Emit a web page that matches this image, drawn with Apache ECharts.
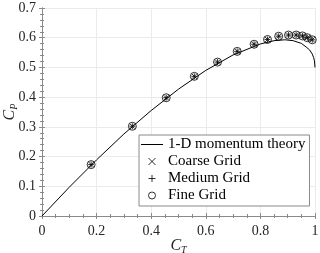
<!DOCTYPE html>
<html>
<head>
<meta charset="utf-8">
<script src="https://cdn.jsdelivr.net/npm/echarts@6/dist/echarts.min.js"></script>
<style>html,body{margin:0;padding:0;background:#fff}#c{width:320px;height:253px}</style>
</head>
<body>
<div id="c"></div>
<script>
// Momentum theory curve
var theoryCT = [0, 0.1, 0.2, 0.3, 0.4, 0.5, 0.6, 0.7, 0.8, 0.85, 0.89, 0.92, 0.95, 0.97, 0.98, 0.99, 0.995, 0.998, 1.0];
var theoryCP = [0, 0.097, 0.189, 0.276, 0.355, 0.427, 0.49, 0.542, 0.579, 0.59, 0.593, 0.59, 0.581, 0.567, 0.559, 0.545, 0.533, 0.522, 0.5];
// Grid simulations
var gridCT = [0.18, 0.331, 0.455, 0.558, 0.643, 0.715, 0.777, 0.826, 0.867, 0.903, 0.931, 0.954, 0.972, 0.99];
var coarseCP = [0.173, 0.302, 0.398, 0.470, 0.518, 0.554, 0.578, 0.594, 0.605, 0.609, 0.609, 0.606, 0.600, 0.593];
var mediumCP = [0.173, 0.302, 0.398, 0.470, 0.518, 0.554, 0.578, 0.594, 0.605, 0.609, 0.609, 0.606, 0.600, 0.593];
var fineCP   = [0.173, 0.302, 0.398, 0.470, 0.518, 0.554, 0.578, 0.594, 0.605, 0.609, 0.609, 0.606, 0.600, 0.593];
var names = ['1-D momentum theory', 'Coarse Grid', 'Medium Grid', 'Fine Grid'];

function pairs(xs, ys) { return xs.map(function (x, i) { return [x, ys[i]]; }); }

var FONT = '"Liberation Serif", "DejaVu Serif", serif';
var AX = '#8a8a8a';
var TXT = '#262626';
var xPath = 'path://M0 0L10 10M10 0L0 10';
var pPath = 'path://M5 0L5 10M0 5L10 5';
var linePath = 'path://M0 0L22 0L22 1L0 1Z';

function axisCommon(show) {
  return {
    axisLine: { show: true, lineStyle: { color: AX, width: 1 } },
    axisTick: { show: true, inside: true, length: 3, lineStyle: { color: AX } },
    axisLabel: { show: show, color: TXT, fontFamily: FONT, fontSize: 14 },
    splitLine: { show: show, lineStyle: { color: '#ebebeb', width: 1 } }
  };
}

var nameRich = {
  c: { fontFamily: FONT, fontStyle: 'italic', fontSize: 16, color: TXT },
  s: { fontFamily: FONT, fontStyle: 'italic', fontSize: 10, color: TXT, padding: [9, 0, 0, 0] }
};

var chart = echarts.init(document.getElementById('c'), null, { renderer: 'canvas' });
chart.setOption({
  animation: false,
  backgroundColor: '#fff',
  grid: { left: 42, right: 5, top: 8, bottom: 37, containLabel: false, outerBoundsMode: 'none' },
  xAxis: [
    Object.assign({ type: 'value', min: 0, max: 1, interval: 0.2, position: 'bottom',
      name: '{c|C}{s|T}', nameLocation: 'middle', nameGap: 20, nameMoveOverlap: false,
      nameTextStyle: { rich: nameRich } }, axisCommon(true),
      { minorTick: { show: true, splitNumber: 4, length: 2, lineStyle: { color: AX } },
        axisLabel: { show: true, color: TXT, fontFamily: FONT, fontSize: 14, margin: 8 } }),
    Object.assign({ type: 'value', min: 0, max: 1, interval: 0.2, position: 'top' }, axisCommon(false),
      { minorTick: { show: true, splitNumber: 4, length: 2, lineStyle: { color: AX } } })
  ],
  yAxis: [
    Object.assign({ type: 'value', min: 0, max: 0.7, interval: 0.1, position: 'left',
      name: '{c|C}{s|P}', nameLocation: 'middle', nameGap: 23, nameRotate: 90, nameMoveOverlap: false,
      nameTextStyle: { rich: nameRich } }, axisCommon(true),
      { minorTick: { show: true, splitNumber: 5, length: 2, lineStyle: { color: AX } },
        axisLabel: { show: true, color: TXT, fontFamily: FONT, fontSize: 14, margin: 6 } }),
    Object.assign({ type: 'value', min: 0, max: 0.7, interval: 0.1, position: 'right' }, axisCommon(false),
      { minorTick: { show: true, splitNumber: 5, length: 2, lineStyle: { color: AX } } })
  ],
  legend: {
    orient: 'vertical', left: 139, top: 135,
    padding: [1, 4, 2, 2], itemGap: 0, itemWidth: 22, itemHeight: 7,
    borderColor: '#8a8a8a', borderWidth: 1, backgroundColor: '#fff',
    textStyle: { fontFamily: FONT, fontSize: 15, color: '#000', lineHeight: 17 },
    data: [
      { name: names[0], icon: linePath, itemStyle: { color: '#000', borderWidth: 0 } },
      { name: names[1], icon: xPath, itemStyle: { color: 'none', borderColor: '#000', borderWidth: 1 } },
      { name: names[2], icon: pPath, itemStyle: { color: 'none', borderColor: '#000', borderWidth: 1 } },
      { name: names[3], icon: 'circle', itemStyle: { color: 'none', borderColor: '#000', borderWidth: 1 } }
    ]
  },
  series: [
    { name: names[0], type: 'line', data: pairs(theoryCT, theoryCP), showSymbol: false, symbol: 'none',
      lineStyle: { color: '#000', width: 1 }, itemStyle: { color: '#000' }, z: 2 },
    { name: names[1], type: 'scatter', data: pairs(gridCT, coarseCP), symbol: xPath, symbolSize: 5,
      itemStyle: { color: 'none', borderColor: '#000', borderWidth: 1 }, z: 3 },
    { name: names[2], type: 'scatter', data: pairs(gridCT, mediumCP), symbol: pPath, symbolSize: 6,
      itemStyle: { color: 'none', borderColor: '#000', borderWidth: 1 }, z: 3 },
    { name: names[3], type: 'scatter', data: pairs(gridCT, fineCP), symbol: 'circle', symbolSize: 8,
      itemStyle: { color: 'none', borderColor: '#000', borderWidth: 1 }, z: 3 }
  ]
});
</script>
</body>
</html>
